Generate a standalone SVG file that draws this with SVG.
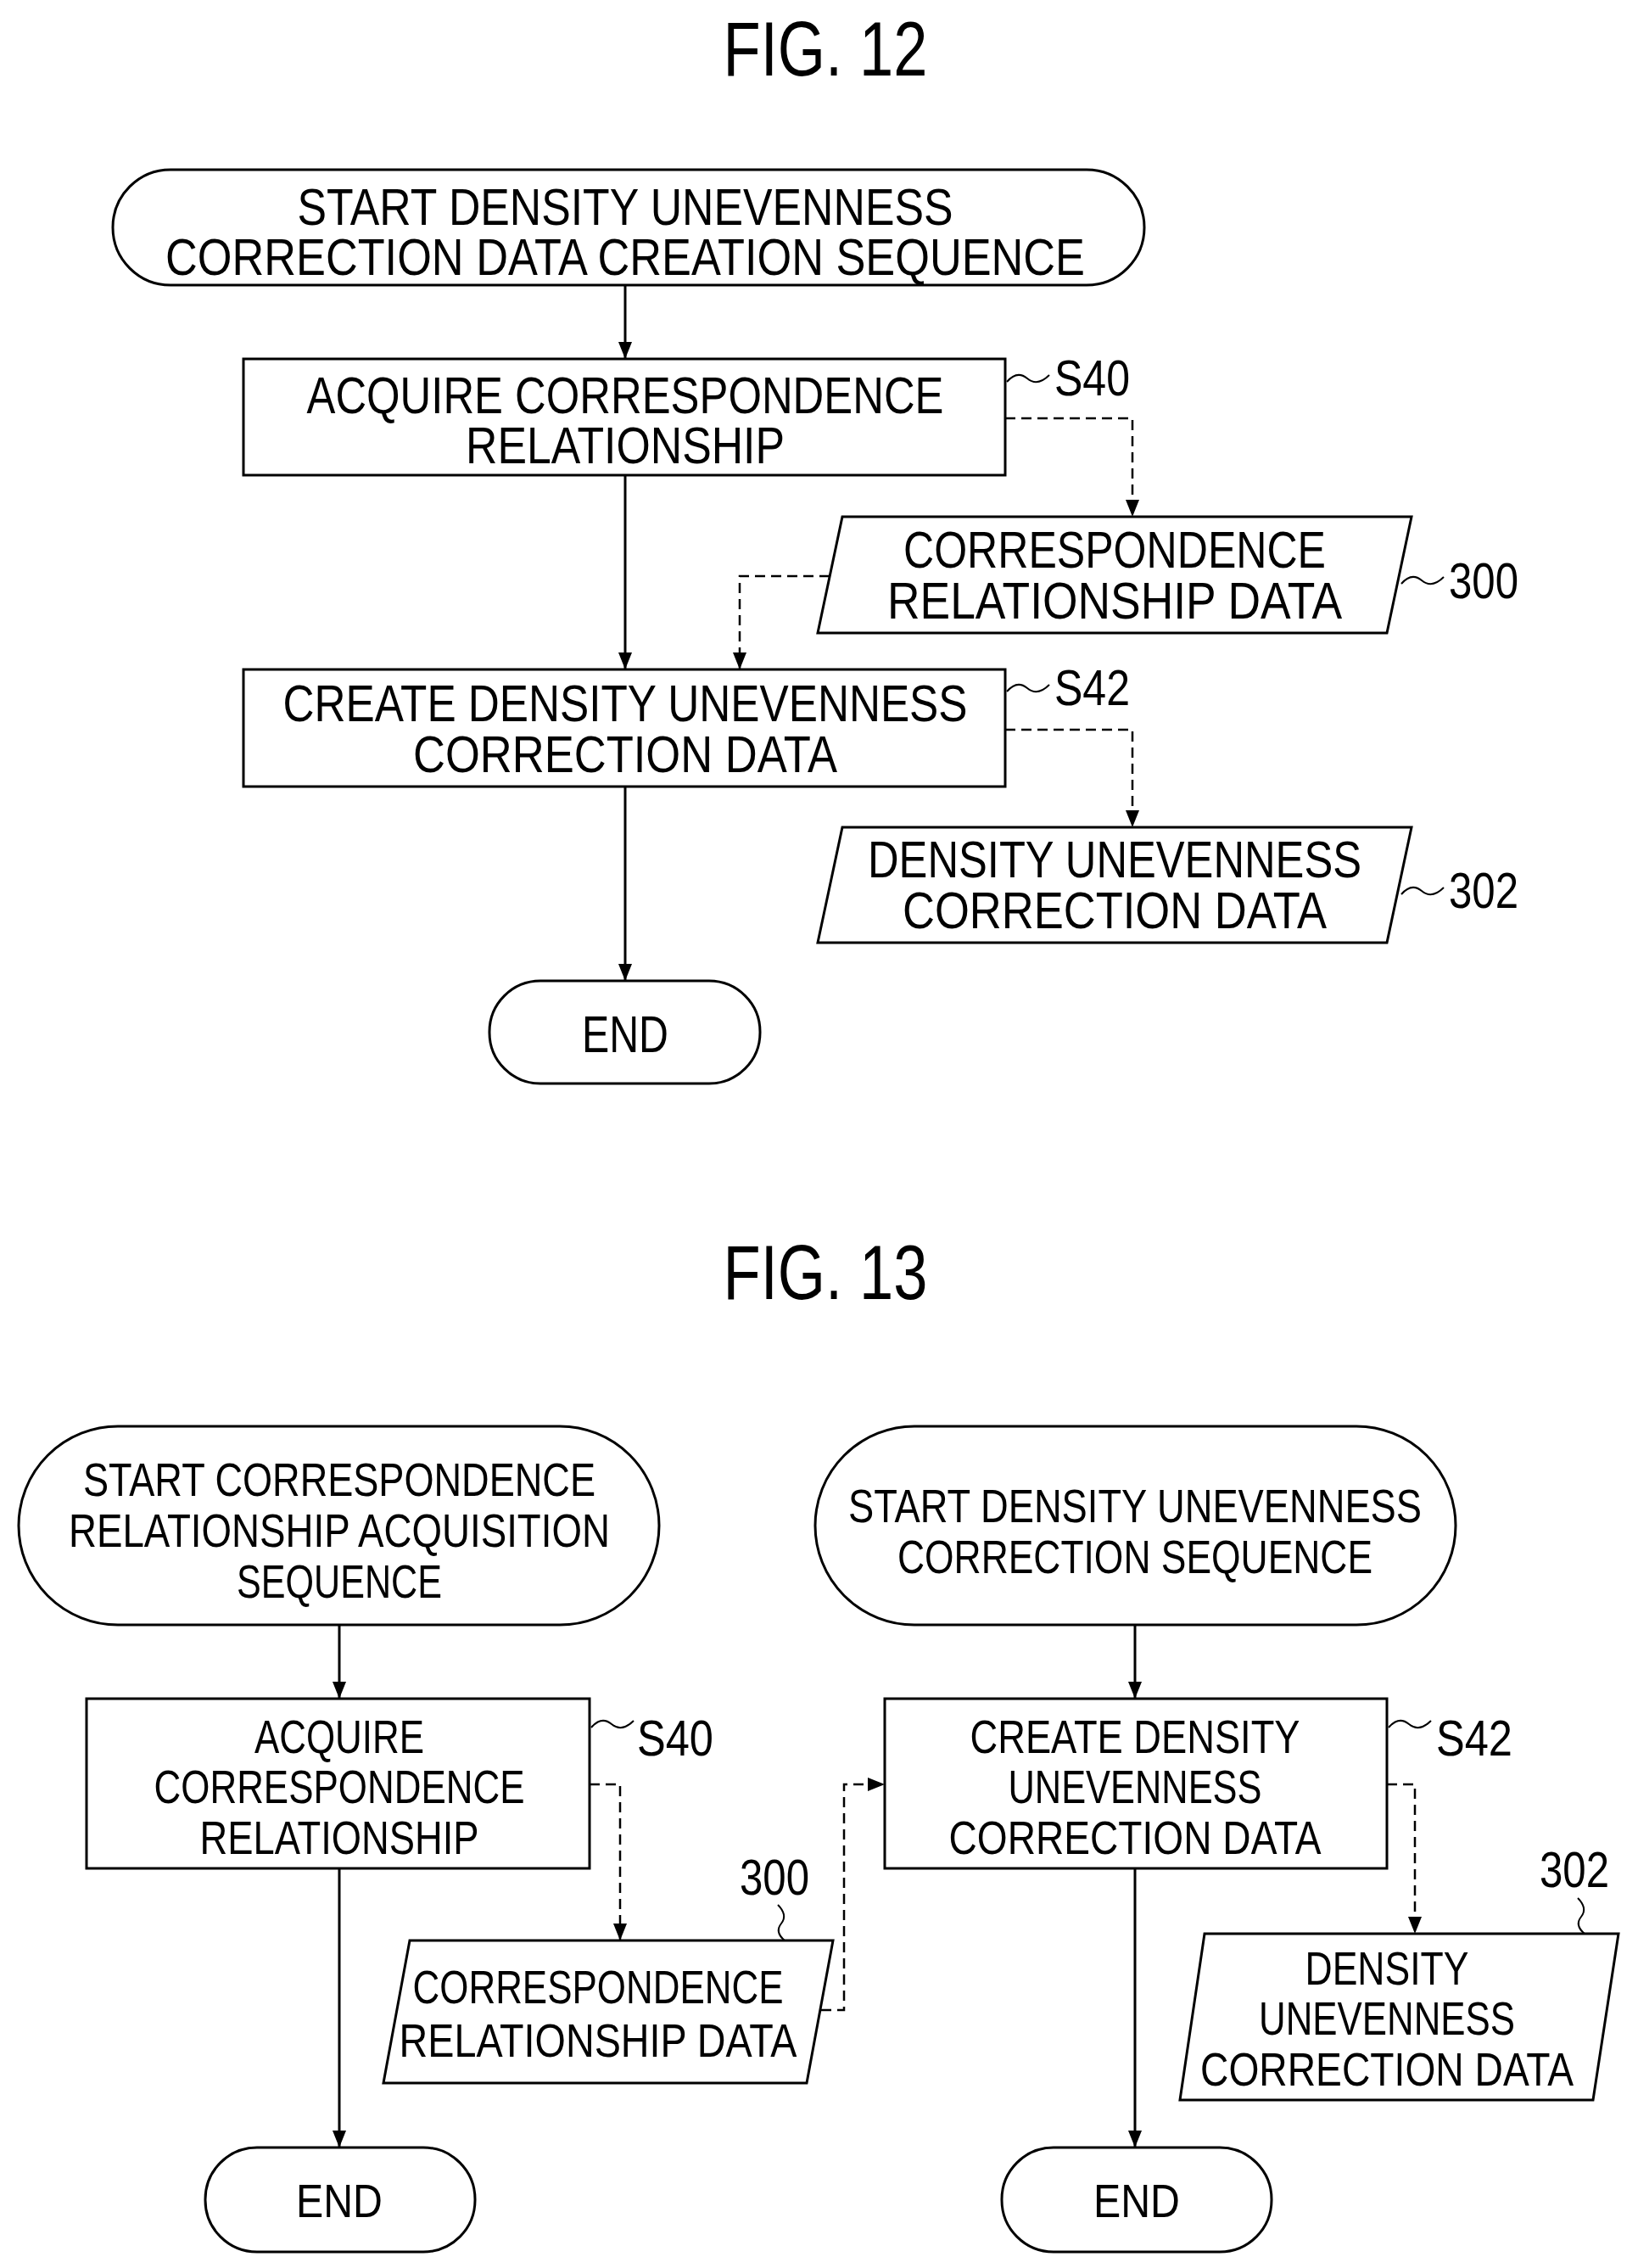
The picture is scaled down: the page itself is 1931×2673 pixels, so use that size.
<svg xmlns="http://www.w3.org/2000/svg" width="1931" height="2673" viewBox="0 0 1931 2673">
<style>
.s{fill:#fff;stroke:#000;stroke-width:3}
.l{fill:none;stroke:#000;stroke-width:3}
.d{fill:none;stroke:#000;stroke-width:2.5;stroke-dasharray:12 7}
.q{fill:none;stroke:#000;stroke-width:2}
text{font-family:"Liberation Sans",Arial,sans-serif;text-anchor:middle;fill:#000}
.a{font-size:62px}
.b{font-size:56px}
.t{font-size:90px}
.n{font-size:60px;text-anchor:start}
.c{font-size:60px}
</style>
<defs>
<marker id="ah2" viewBox="0 0 10 10" markerWidth="20" markerHeight="20" refX="10" refY="5" orient="auto" markerUnits="userSpaceOnUse"><path d="M0,1 L10,5 L0,9 z" fill="#000"/></marker>
</defs>
<rect width="1931" height="2673" fill="#fff"/>
<text class="t" x="973" y="89" textLength="241" lengthAdjust="spacingAndGlyphs">FIG. 12</text>
<text class="t" x="973" y="1531" textLength="241" lengthAdjust="spacingAndGlyphs">FIG. 13</text>
<g id="connectors">
<line class="l" x1="737" y1="336" x2="737" y2="423" marker-end="url(#ah2)"/>
<line class="l" x1="737" y1="560" x2="737" y2="789" marker-end="url(#ah2)"/>
<line class="l" x1="737" y1="927" x2="737" y2="1156" marker-end="url(#ah2)"/>
<polyline class="d" points="1185,493 1335,493 1335,609" marker-end="url(#ah2)"/>
<polyline class="d" points="978,679 872,679 872,789" marker-end="url(#ah2)"/>
<polyline class="d" points="1185,860 1335,860 1335,975" marker-end="url(#ah2)"/>
<line class="l" x1="400" y1="1915" x2="400" y2="2002" marker-end="url(#ah2)"/>
<line class="l" x1="400" y1="2202" x2="400" y2="2531" marker-end="url(#ah2)"/>
<line class="l" x1="1338" y1="1915" x2="1338" y2="2002" marker-end="url(#ah2)"/>
<line class="l" x1="1338" y1="2202" x2="1338" y2="2531" marker-end="url(#ah2)"/>
<polyline class="d" points="695,2103 731,2103 731,2287" marker-end="url(#ah2)"/>
<polyline class="d" points="968,2369 995,2369 995,2103 1043,2103" marker-end="url(#ah2)"/>
<polyline class="d" points="1635,2103 1668,2103 1668,2279" marker-end="url(#ah2)"/>
</g>
<g id="f12start"><rect class="s" x="133" y="200" width="1216" height="136" rx="68"/>
<text class="a" x="737" y="265" textLength="773" lengthAdjust="spacingAndGlyphs">START DENSITY UNEVENNESS</text>
<text class="a" x="737" y="324" textLength="1084" lengthAdjust="spacingAndGlyphs">CORRECTION DATA CREATION SEQUENCE</text></g>
<g id="f12s40"><rect class="s" x="287" y="423" width="898" height="137"/>
<text class="a" x="737" y="487" textLength="751" lengthAdjust="spacingAndGlyphs">ACQUIRE CORRESPONDENCE</text>
<text class="a" x="737" y="546" textLength="376" lengthAdjust="spacingAndGlyphs">RELATIONSHIP</text>
<path class="q" d="M1187,450 q12,-14 24,-4 t26,-4"/>
<text class="n" x="1243" y="466" textLength="89" lengthAdjust="spacingAndGlyphs">S40</text></g>
<g id="f12d300"><polygon class="s" points="993,609 1664,609 1635,746 964,746"/>
<text class="a" x="1314" y="669" textLength="498" lengthAdjust="spacingAndGlyphs">CORRESPONDENCE</text>
<text class="a" x="1314" y="729" textLength="536" lengthAdjust="spacingAndGlyphs">RELATIONSHIP DATA</text>
<path class="q" d="M1652,688 q12,-14 24,-4 t26,-4"/>
<text class="n" x="1708" y="705" textLength="82" lengthAdjust="spacingAndGlyphs">300</text></g>
<g id="f12s42"><rect class="s" x="287" y="789" width="898" height="138"/>
<text class="a" x="737" y="850" textLength="807" lengthAdjust="spacingAndGlyphs">CREATE DENSITY UNEVENNESS</text>
<text class="a" x="737" y="910" textLength="500" lengthAdjust="spacingAndGlyphs">CORRECTION DATA</text>
<path class="q" d="M1187,815 q12,-14 24,-4 t26,-4"/>
<text class="n" x="1243" y="831" textLength="89" lengthAdjust="spacingAndGlyphs">S42</text></g>
<g id="f12d302"><polygon class="s" points="993,975 1664,975 1635,1111 964,1111"/>
<text class="a" x="1314" y="1034" textLength="582" lengthAdjust="spacingAndGlyphs">DENSITY UNEVENNESS</text>
<text class="a" x="1314" y="1094" textLength="500" lengthAdjust="spacingAndGlyphs">CORRECTION DATA</text>
<path class="q" d="M1652,1054 q12,-14 24,-4 t26,-4"/>
<text class="n" x="1708" y="1070" textLength="82" lengthAdjust="spacingAndGlyphs">302</text></g>
<g id="f12end"><rect class="s" x="577" y="1156" width="319" height="121" rx="60"/>
<text class="a" x="737" y="1240" textLength="102" lengthAdjust="spacingAndGlyphs">END</text></g>
<g id="f13start1"><rect class="s" x="22" y="1681" width="755" height="234" rx="117"/>
<text class="b" x="400" y="1763" textLength="604" lengthAdjust="spacingAndGlyphs">START CORRESPONDENCE</text>
<text class="b" x="400" y="1823" textLength="638" lengthAdjust="spacingAndGlyphs">RELATIONSHIP ACQUISITION</text>
<text class="b" x="400" y="1883" textLength="242" lengthAdjust="spacingAndGlyphs">SEQUENCE</text></g>
<g id="f13s40"><rect class="s" x="102" y="2002" width="593" height="200"/>
<text class="b" x="400" y="2066" textLength="200" lengthAdjust="spacingAndGlyphs">ACQUIRE</text>
<text class="b" x="400" y="2125" textLength="437" lengthAdjust="spacingAndGlyphs">CORRESPONDENCE</text>
<text class="b" x="400" y="2185" textLength="329" lengthAdjust="spacingAndGlyphs">RELATIONSHIP</text>
<path class="q" d="M697,2036 q12,-14 24,-4 t26,-4"/>
<text class="n" x="751" y="2069" textLength="90" lengthAdjust="spacingAndGlyphs">S40</text></g>
<g id="f13d300"><polygon class="s" points="483,2287 982,2287 951,2455 452,2455"/>
<text class="b" x="705" y="2361" textLength="437" lengthAdjust="spacingAndGlyphs">CORRESPONDENCE</text>
<text class="b" x="705" y="2424" textLength="469" lengthAdjust="spacingAndGlyphs">RELATIONSHIP DATA</text>
<path class="q" d="M925,2287 q-12,-10 -4,-20 t-4,-22"/>
<text class="c" x="913" y="2233" textLength="82" lengthAdjust="spacingAndGlyphs">300</text></g>
<g id="f13start2"><rect class="s" x="961" y="1681" width="755" height="234" rx="117"/>
<text class="b" x="1338" y="1794" textLength="676" lengthAdjust="spacingAndGlyphs">START DENSITY UNEVENNESS</text>
<text class="b" x="1338" y="1854" textLength="560" lengthAdjust="spacingAndGlyphs">CORRECTION SEQUENCE</text></g>
<g id="f13s42"><rect class="s" x="1043" y="2002" width="592" height="200"/>
<text class="b" x="1338" y="2066" textLength="389" lengthAdjust="spacingAndGlyphs">CREATE DENSITY</text>
<text class="b" x="1338" y="2125" textLength="299" lengthAdjust="spacingAndGlyphs">UNEVENNESS</text>
<text class="b" x="1338" y="2185" textLength="439" lengthAdjust="spacingAndGlyphs">CORRECTION DATA</text>
<path class="q" d="M1637,2036 q12,-14 24,-4 t26,-4"/>
<text class="n" x="1693" y="2069" textLength="90" lengthAdjust="spacingAndGlyphs">S42</text></g>
<g id="f13d302"><polygon class="s" points="1420,2279 1908,2279 1878,2475 1391,2475"/>
<text class="b" x="1635" y="2339" textLength="193" lengthAdjust="spacingAndGlyphs">DENSITY</text>
<text class="b" x="1635" y="2398" textLength="302" lengthAdjust="spacingAndGlyphs">UNEVENNESS</text>
<text class="b" x="1635" y="2458" textLength="440" lengthAdjust="spacingAndGlyphs">CORRECTION DATA</text>
<path class="q" d="M1868,2279 q-12,-10 -4,-20 t-4,-22"/>
<text class="c" x="1856" y="2224" textLength="82" lengthAdjust="spacingAndGlyphs">302</text></g>
<g id="f13end1"><rect class="s" x="242" y="2531" width="318" height="123" rx="61"/>
<text class="b" x="400" y="2613" textLength="102" lengthAdjust="spacingAndGlyphs">END</text></g>
<g id="f13end2"><rect class="s" x="1181" y="2531" width="318" height="123" rx="61"/>
<text class="b" x="1340" y="2613" textLength="102" lengthAdjust="spacingAndGlyphs">END</text></g>
</svg>
